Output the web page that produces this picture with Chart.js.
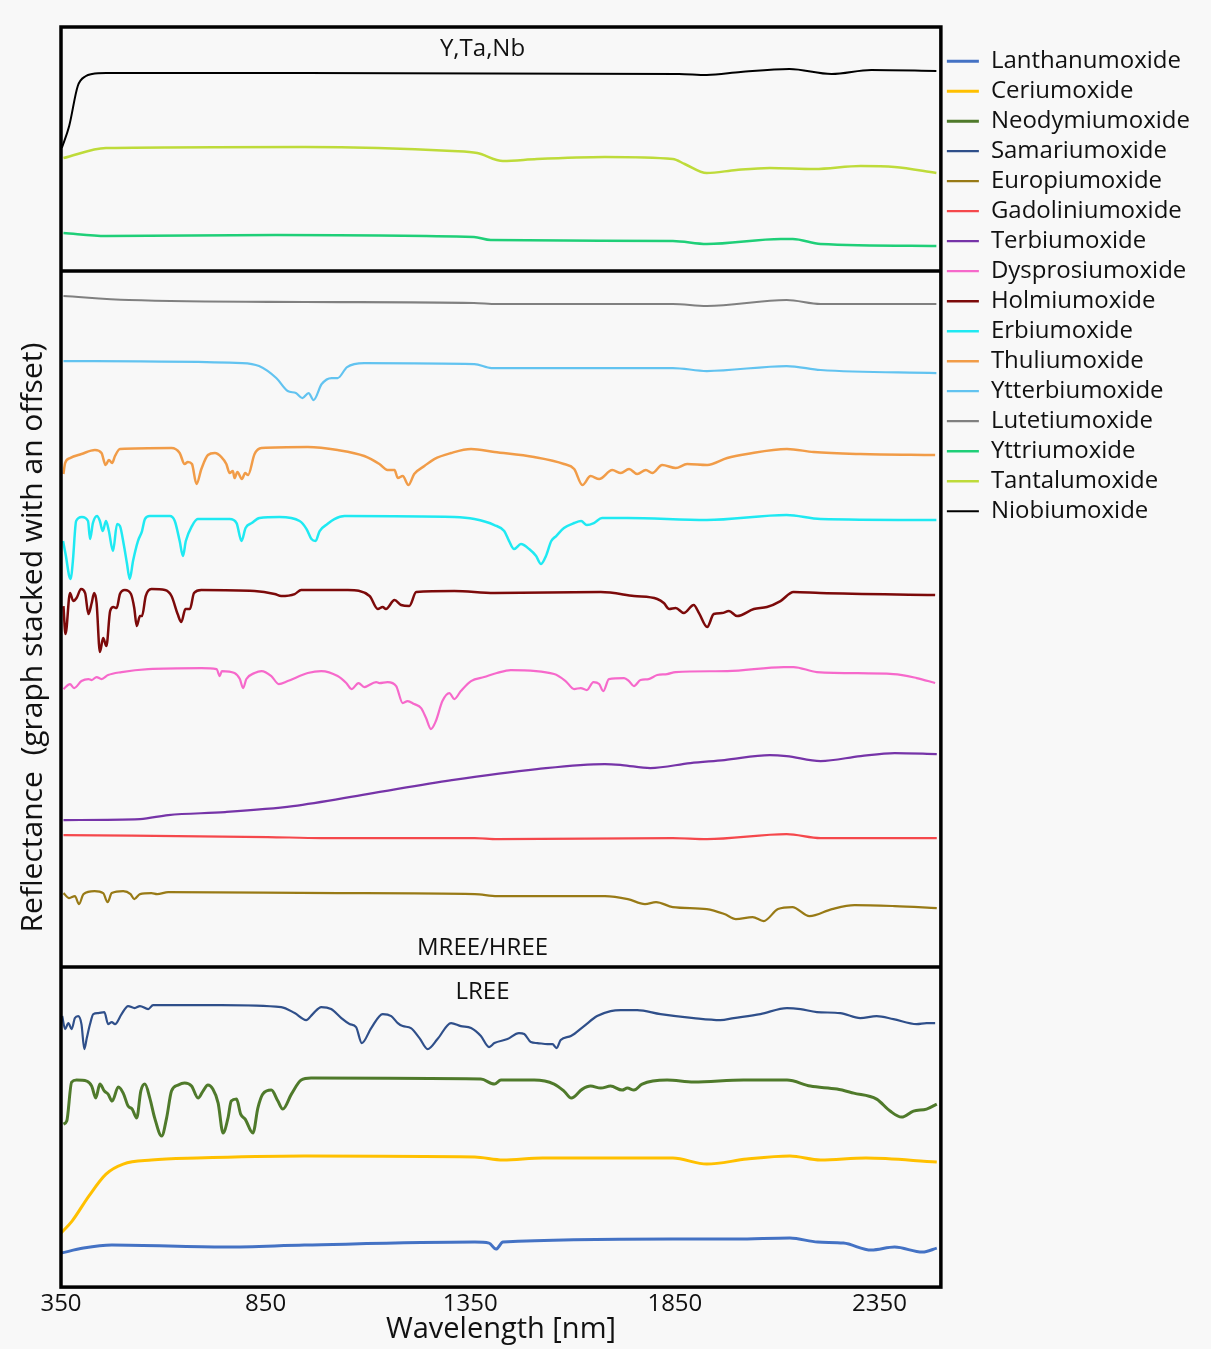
<!DOCTYPE html>
<html>
<head>
<meta charset="utf-8">
<script src="https://cdn.jsdelivr.net/npm/chart.js@4.4.1/dist/chart.umd.min.js"></script>
<style>
  body { margin: 0; background: #f8f8f8; }
  #wrap { width: 1211px; height: 1349px; }
</style>
</head>
<body>
<div id="wrap"><canvas id="spectra" width="1211" height="1349"></canvas></div>
<script>
// Spectra as [wavelength nm, reflectance + stacking offset]
const lanthanum = [[350,3.4],[405,3.9],[474,4.2],[751,4.0],[945,4.2],[1361,4.5],[1396,4.4],[1413,3.8],[1430,4.5],[1845,4.8],[1999,4.8],[2131,4.9],[2199,4.5],[2262,4.4],[2330,3.7],[2387,4.0],[2455,3.5],[2490,3.9]];
const cerium = [[350,5.4],[377,6.6],[418,9.1],[460,11.3],[502,12.3],[571,12.7],[682,12.9],[945,13.1],[1361,13.0],[1430,12.7],[1527,12.9],[1845,12.9],[1928,12.3],[2026,12.8],[2131,13.1],[2206,12.7],[2317,12.9],[2490,12.5]];
const neodymium = [[356,16.3],[364,16.6],[376,20.5],[388,20.7],[413,20.6],[425,20.1],[435,18.9],[445,20.3],[456,19.6],[465,19.3],[475,18.6],[490,20.0],[502,19.4],[514,18.1],[524,17.8],[535,16.9],[545,19.6],[555,20.3],[567,18.9],[579,16.9],[596,15.1],[608,16.9],[620,19.6],[636,20.2],[652,20.4],[669,20.1],[685,18.9],[697,19.6],[709,20.2],[721,19.8],[734,18.4],[746,15.4],[758,16.9],[766,18.6],[779,18.8],[789,17.3],[800,16.8],[819,15.4],[831,17.9],[843,19.3],[864,19.7],[880,18.6],[892,17.8],[913,19.3],[937,20.7],[961,20.9],[1376,20.8],[1409,20.3],[1425,20.7],[1506,20.7],[1555,20.3],[1579,19.6],[1597,18.9],[1624,19.8],[1644,20.1],[1669,19.9],[1693,20.1],[1721,19.7],[1734,19.9],[1750,19.7],[1770,20.3],[1831,20.7],[1896,20.5],[2018,20.7],[2124,20.7],[2181,20.1],[2246,19.8],[2287,19.4],[2343,18.8],[2376,17.6],[2404,17.0],[2433,17.6],[2465,17.8],[2490,18.3]];
const samarium = [[353,27.1],[360,25.8],[368,26.4],[376,25.8],[384,26.9],[392,27.1],[400,26.3],[407,23.8],[413,24.9],[421,26.3],[429,27.3],[441,27.4],[456,27.5],[465,26.3],[474,26.5],[482,26.3],[498,27.3],[514,28.1],[530,27.9],[543,28.1],[563,27.8],[575,28.2],[742,28.2],[888,28.0],[921,27.4],[949,26.7],[965,27.3],[986,28.0],[1010,27.8],[1035,26.9],[1055,26.3],[1071,26.0],[1085,24.4],[1108,25.9],[1136,27.3],[1157,27.1],[1173,26.4],[1185,26.1],[1205,25.9],[1226,24.9],[1246,23.8],[1270,24.8],[1303,26.4],[1327,26.1],[1352,25.9],[1376,25.1],[1396,24.0],[1409,24.4],[1441,24.8],[1469,25.4],[1482,25.3],[1498,24.5],[1514,24.4],[1539,24.3],[1551,24.3],[1561,23.9],[1571,24.7],[1596,25.1],[1628,26.1],[1660,27.1],[1693,27.6],[1718,27.7],[1758,27.7],[1815,27.3],[1896,26.9],[1961,26.7],[1994,26.9],[2059,27.3],[2124,27.9],[2157,27.8],[2197,27.5],[2254,27.4],[2303,26.9],[2343,27.1],[2384,26.8],[2441,26.3],[2465,26.4],[2486,26.4]];
const europium = [[356,39.4],[370,38.9],[384,39.1],[394,38.3],[405,39.3],[432,39.6],[453,39.4],[464,38.5],[474,39.4],[502,39.6],[520,39.3],[529,38.8],[543,39.3],[571,39.4],[585,39.3],[612,39.5],[1028,39.4],[1361,39.3],[1416,39.1],[1679,39.1],[1735,38.8],[1777,38.3],[1804,38.5],[1845,38.0],[1928,37.8],[1971,37.3],[1999,36.8],[2040,37.0],[2067,36.6],[2102,37.8],[2137,38.0],[2179,37.1],[2234,37.8],[2289,38.2],[2387,38.1],[2490,37.9]];
const gadolinium = [[356,45.2],[855,45.0],[987,44.9],[1361,44.9],[1416,44.8],[1845,44.9],[1928,44.8],[2123,45.3],[2206,44.9],[2490,44.9]];
const terbium = [[356,46.7],[543,46.8],[612,47.2],[751,47.5],[917,48.1],[1098,49.3],[1305,50.7],[1513,51.8],[1679,52.3],[1721,52.2],[1790,51.9],[1888,52.4],[1971,52.7],[2082,53.2],[2123,53.1],[2206,52.6],[2304,53.1],[2387,53.4],[2490,53.3]];
const dysprosium = [[356,59.8],[372,60.3],[382,59.9],[400,60.6],[417,60.8],[425,60.7],[437,61.0],[449,60.8],[465,61.2],[498,61.5],[563,61.8],[693,61.9],[730,61.8],[738,61.1],[743,61.6],[774,61.4],[787,60.8],[795,59.9],[803,60.8],[823,61.4],[840,61.6],[864,61.1],[882,60.3],[904,60.6],[953,61.4],[986,61.6],[1026,61.1],[1047,60.4],[1060,59.8],[1077,60.4],[1091,60.0],[1120,60.5],[1128,60.4],[1148,60.5],[1169,60.1],[1185,58.4],[1197,58.6],[1213,58.3],[1230,57.9],[1242,56.9],[1254,55.8],[1266,56.6],[1282,58.6],[1299,59.4],[1311,58.8],[1327,59.6],[1352,60.6],[1384,61.0],[1415,61.4],[1449,61.7],[1555,61.3],[1583,60.6],[1604,59.8],[1620,59.9],[1635,59.7],[1651,60.5],[1665,60.3],[1675,59.6],[1689,60.8],[1726,60.9],[1738,60.6],[1750,60.1],[1766,60.7],[1786,60.8],[1807,61.2],[1831,61.3],[1852,61.5],[1978,61.6],[2116,62.0],[2140,62.0],[2197,61.5],[2384,61.3],[2441,60.9],[2486,60.4]];
const holmium = [[356,68.1],[361,65.3],[372,69.4],[380,68.6],[388,68.9],[399,69.8],[409,69.4],[417,67.3],[425,68.4],[431,69.4],[437,68.4],[445,63.5],[453,64.9],[461,64.1],[470,67.6],[478,68.0],[486,67.9],[494,69.3],[506,69.7],[521,69.3],[529,67.9],[535,66.1],[543,67.1],[548,67.1],[557,69.1],[571,69.8],[604,69.7],[620,69.1],[635,67.3],[644,66.5],[654,67.8],[665,67.8],[675,69.4],[693,69.7],[823,69.6],[872,69.3],[888,69.1],[921,69.3],[937,69.7],[1051,69.7],[1104,69.1],[1124,67.8],[1136,68.0],[1144,67.8],[1165,68.7],[1181,68.2],[1201,68.1],[1218,69.5],[1311,69.6],[1409,69.4],[1669,69.5],[1750,69.1],[1807,68.8],[1823,68.4],[1836,67.8],[1852,67.9],[1872,67.4],[1896,68.2],[1909,67.4],[1929,66.0],[1945,67.3],[1965,67.4],[1982,67.6],[2002,67.1],[2043,67.8],[2075,68.0],[2108,68.6],[2140,69.5],[2205,69.4],[2486,69.2]];
const erbium = [[355,74.6],[362,73.1],[370,71.1],[374,70.8],[379,72.6],[387,76.6],[401,77.0],[416,76.6],[421,74.8],[428,76.4],[438,77.1],[445,76.6],[452,75.6],[460,76.6],[467,75.6],[477,73.6],[487,76.3],[494,76.1],[504,74.1],[511,72.4],[518,70.8],[526,72.6],[538,74.6],[548,75.6],[555,76.8],[567,77.1],[616,77.1],[628,76.6],[640,74.6],[648,73.1],[655,74.6],[670,76.1],[684,76.8],[762,76.8],[779,76.4],[791,74.6],[801,75.9],[816,76.4],[835,76.9],[884,77.0],[933,76.6],[950,75.8],[962,74.8],[972,74.6],[982,75.6],[1001,76.3],[1018,76.8],[1043,77.1],[1311,77.0],[1360,76.8],[1409,76.2],[1433,75.6],[1445,74.6],[1457,73.8],[1474,74.3],[1494,73.8],[1511,73.1],[1523,72.3],[1535,73.1],[1548,74.6],[1560,75.1],[1579,75.9],[1604,76.4],[1621,76.6],[1635,76.2],[1652,76.4],[1672,76.9],[1733,76.9],[1928,76.7],[2123,77.2],[2206,76.8],[2489,76.7]];
const thulium = [[356,81.3],[360,82.4],[372,82.9],[400,83.3],[433,83.7],[449,83.4],[459,82.2],[467,82.7],[475,82.4],[482,83.1],[494,83.8],[620,83.9],[640,83.4],[652,82.3],[660,82.5],[670,82.3],[681,80.3],[693,81.8],[709,83.2],[726,83.4],[742,83.0],[754,82.3],[762,81.4],[770,81.6],[774,80.9],[781,81.5],[792,80.8],[800,81.4],[807,81.2],[823,83.3],[840,83.9],[953,84.0],[1026,83.7],[1091,83.1],[1128,82.3],[1148,81.7],[1165,81.7],[1173,80.9],[1185,81.1],[1199,80.2],[1213,81.3],[1238,82.1],[1262,82.8],[1303,83.4],[1352,83.8],[1409,83.5],[1506,83.0],[1579,82.3],[1604,81.8],[1624,80.2],[1644,81.1],[1665,80.8],[1697,81.7],[1718,81.4],[1738,81.8],[1758,81.3],[1779,81.7],[1795,81.4],[1819,82.2],[1852,81.9],[1880,82.3],[1929,82.2],[1978,82.9],[2026,83.3],[2124,83.8],[2189,83.5],[2303,83.3],[2486,83.2]];
const ytterbium = [[356,92.6],[793,92.4],[834,92.1],[876,90.9],[904,89.6],[924,89.4],[940,88.9],[955,89.4],[967,88.7],[987,90.3],[1011,90.9],[1026,90.9],[1049,92.0],[1091,92.4],[1360,92.3],[1402,91.9],[1845,91.9],[1928,91.6],[2123,92.1],[2206,91.7],[2489,91.4]];
const lutetium = [[356,99.1],[516,98.7],[945,98.5],[1359,98.4],[1415,98.3],[1845,98.3],[1928,98.1],[2123,98.7],[2206,98.3],[2489,98.3]];
const yttrium = [[356,105.4],[460,105.1],[875,105.2],[1359,105.0],[1400,104.7],[1845,104.6],[1928,104.3],[2109,104.8],[2138,104.8],[2206,104.3],[2489,104.1]];
const tantalum = [[356,112.9],[460,113.9],[945,114.0],[1306,113.6],[1367,113.4],[1430,112.6],[1513,112.8],[1679,113.0],[1845,112.8],[1874,112.3],[1928,111.4],[2000,111.7],[2082,111.9],[2191,111.8],[2304,112.1],[2387,112.0],[2489,111.4]];
const niobium = [[352,113.9],[370,116.1],[391,120.1],[411,121.1],[426,121.3],[460,121.4],[945,121.4],[1860,121.3],[1928,121.2],[2011,121.5],[2130,121.8],[2233,121.3],[2330,121.7],[2489,121.6]];

const seriesNames = ['Lanthanumoxide', 'Ceriumoxide', 'Neodymiumoxide', 'Samariumoxide', 'Europiumoxide',
  'Gadoliniumoxide', 'Terbiumoxide', 'Dysprosiumoxide', 'Holmiumoxide', 'Erbiumoxide', 'Thuliumoxide',
  'Ytterbiumoxide', 'Lutetiumoxide', 'Yttriumoxide', 'Tantalumoxide', 'Niobiumoxide'];
const seriesData = [lanthanum, cerium, neodymium, samarium, europium, gadolinium, terbium, dysprosium,
  holmium, erbium, thulium, ytterbium, lutetium, yttrium, tantalum, niobium];
const seriesColors = ['#4472c4', '#ffc000', '#4f7a2b', '#2f4f8a', '#987a16', '#f5484c', '#7634a8', '#f669cb',
  '#7c0a0a', '#1fe9f2', '#f19c48', '#62c3f0', '#808080', '#1fcf78', '#bedb3a', '#000000'];
const seriesWidths = [3, 3, 3, 2.2, 2.2, 2.2, 2.2, 2.2, 2.5, 2.5, 2.5, 2.2, 2.2, 2.5, 2.5, 2];

const xTicks = [350, 850, 1350, 1850, 2350];
// panel split lines and group labels (in offset reflectance units)
const panelBreaks = [101.6, 32.0];
const panelLabels = [['Y,Ta,Nb', 123.8], ['MREE/HREE', 33.9], ['LREE', 29.5]];

const panels = {
  id: 'panels',
  beforeDraw(chart) {
    const ctx = chart.ctx;
    ctx.save();
    ctx.fillStyle = '#f8f8f8';
    ctx.fillRect(0, 0, chart.width, chart.height);
    ctx.restore();
  },
  afterDatasetsDraw(chart) {
    const { ctx, chartArea: a, scales } = chart;
    ctx.save();
    ctx.strokeStyle = '#000';
    ctx.lineWidth = 3.5;
    panelBreaks.forEach(v => {
      const y = scales.y.getPixelForValue(v);
      ctx.beginPath();
      ctx.moveTo(a.left, y);
      ctx.lineTo(a.right, y);
      ctx.stroke();
    });
    ctx.strokeRect(a.left, a.top, a.right - a.left, a.bottom - a.top);
    ctx.fillStyle = '#111';
    ctx.font = '24px "Open Sans"';
    ctx.textAlign = 'center';
    ctx.textBaseline = 'middle';
    panelLabels.forEach(([txt, v]) => {
      ctx.fillText(txt, scales.x.getPixelForValue(1380), scales.y.getPixelForValue(v));
    });
    ctx.restore();
  }
};

new Chart(document.getElementById('spectra'), {
  type: 'line',
  data: {
    datasets: seriesNames.map((name, i) => ({
      label: name,
      data: seriesData[i].map(p => ({ x: p[0], y: p[1] })),
      borderColor: seriesColors[i],
      backgroundColor: seriesColors[i],
      borderWidth: seriesWidths[i],
      pointRadius: 0,
      cubicInterpolationMode: 'monotone',
      fill: false,
    })),
  },
  options: {
    responsive: false,
    animation: false,
    layout: { padding: { left: 7, right: 11, top: 27, bottom: 10.5 } },
    plugins: {
      legend: {
        position: 'right',
        align: 'start',
        title: { display: true, text: '', padding: { top: 15, bottom: 0 }, font: { size: 1 } },
        labels: {
          usePointStyle: true,
          pointStyle: 'line',
          pointStyleWidth: 32,
          padding: 6,
          color: '#111',
          font: { family: '"Open Sans"', size: 24 },
        },
      },
      tooltip: { enabled: false },
    },
    scales: {
      x: {
        type: 'linear',
        min: 350,
        max: 2500,
        grid: { display: false, drawTicks: false },
        border: { display: false },
        afterBuildTicks: (axis) => { axis.ticks = xTicks.map(v => ({ value: v })); },
        ticks: {
          color: '#111',
          padding: 5,
          font: { family: '"Open Sans"', size: 24, lineHeight: 1 },
          callback: (v) => String(v),
        },
        title: {
          display: true,
          text: 'Wavelength [nm]',
          color: '#111',
          padding: { top: 0, bottom: 0 },
          font: { family: '"Open Sans"', size: 29, lineHeight: 0.6 },
        },
      },
      y: {
        min: 0,
        max: 126,
        grid: { display: false, drawTicks: false },
        border: { display: false },
        ticks: { display: false },
        title: {
          display: true,
          text: '     Reflectance  (graph stacked with an offset)',
          color: '#111',
          padding: { top: 11, bottom: 13 },
          font: { family: '"Open Sans"', size: 30, lineHeight: 1 },
        },
      },
    },
  },
  plugins: [panels],
});
</script>
</body>
</html>
